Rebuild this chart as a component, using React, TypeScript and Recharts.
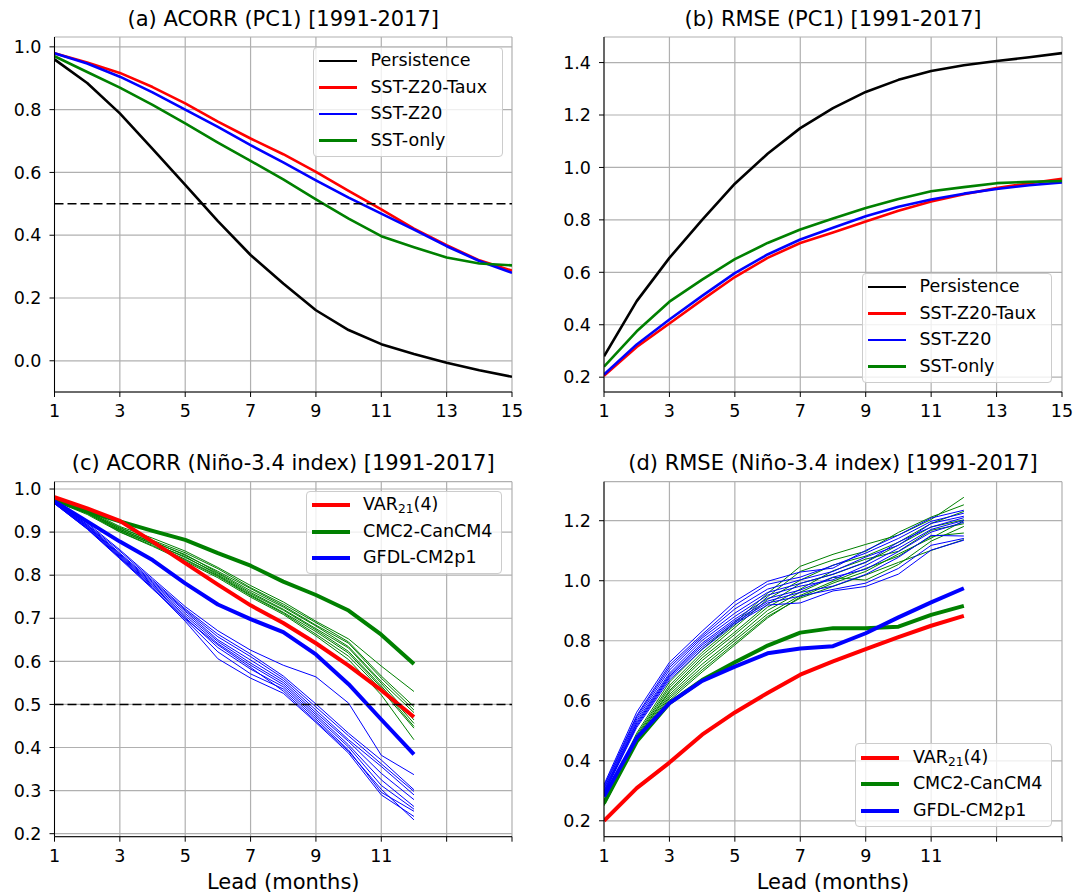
import React from "react";
import { LineChart, Line, XAxis, YAxis, CartesianGrid, ReferenceLine } from "recharts";

const FONT = "'DejaVu Sans', Verdana, sans-serif";

// lead months
const leadsPC1 = [1, 2, 3, 4, 5, 6, 7, 8, 9, 10, 11, 12, 13, 14, 15];
const leadsNino = [1, 2, 3, 4, 5, 6, 7, 8, 9, 10, 11, 12];
const xTicks = [1, 3, 5, 7, 9, 11, 13, 15];

// (a) ACORR PC1
const persistenceA = [0.96, 0.885, 0.788, 0.675, 0.56, 0.445, 0.337, 0.246, 0.161, 0.098, 0.053, 0.022, -0.006, -0.03, -0.051];
const tauxA = [0.98, 0.95, 0.917, 0.872, 0.82, 0.762, 0.708, 0.658, 0.602, 0.541, 0.482, 0.421, 0.368, 0.32, 0.287];
const z20A = [0.98, 0.947, 0.905, 0.855, 0.8, 0.745, 0.687, 0.632, 0.575, 0.52, 0.469, 0.418, 0.365, 0.318, 0.28];
const sstOnlyA = [0.97, 0.92, 0.87, 0.815, 0.756, 0.695, 0.637, 0.578, 0.514, 0.453, 0.397, 0.362, 0.329, 0.31, 0.304];

// (b) RMSE PC1
const persistenceB = [0.28, 0.49, 0.655, 0.8, 0.938, 1.052, 1.15, 1.226, 1.288, 1.334, 1.368, 1.39, 1.406, 1.42, 1.436];
const tauxB = [0.205, 0.315, 0.405, 0.495, 0.582, 0.655, 0.712, 0.752, 0.794, 0.835, 0.87, 0.898, 0.921, 0.94, 0.957];
const z20B = [0.21, 0.325, 0.42, 0.51, 0.597, 0.668, 0.725, 0.77, 0.814, 0.85, 0.878, 0.9, 0.918, 0.932, 0.943];
const sstOnlyB = [0.24, 0.375, 0.488, 0.572, 0.65, 0.712, 0.763, 0.805, 0.845, 0.88, 0.909, 0.925, 0.94, 0.945, 0.948];

// (c) ACORR Nino-3.4
const varC = [0.981, 0.955, 0.926, 0.878, 0.828, 0.778, 0.73, 0.689, 0.642, 0.59, 0.533, 0.471];
const cmcC = [0.975, 0.948, 0.925, 0.903, 0.882, 0.851, 0.822, 0.785, 0.754, 0.718, 0.662, 0.594];
const gfdlC = [0.971, 0.925, 0.878, 0.835, 0.781, 0.732, 0.698, 0.668, 0.616, 0.547, 0.465, 0.384];
const cmcMembersC = [
  [0.976, 0.951, 0.913, 0.886, 0.856, 0.818, 0.776, 0.738, 0.693, 0.652, 0.589, 0.53],
  [0.975, 0.949, 0.909, 0.881, 0.852, 0.815, 0.771, 0.733, 0.69, 0.645, 0.566, 0.495],
  [0.975, 0.947, 0.911, 0.879, 0.846, 0.809, 0.769, 0.729, 0.684, 0.642, 0.561, 0.487],
  [0.974, 0.948, 0.906, 0.877, 0.848, 0.806, 0.764, 0.726, 0.682, 0.634, 0.553, 0.481],
  [0.974, 0.945, 0.907, 0.875, 0.841, 0.804, 0.76, 0.721, 0.676, 0.631, 0.549, 0.464],
  [0.973, 0.946, 0.904, 0.873, 0.843, 0.801, 0.757, 0.719, 0.673, 0.623, 0.543, 0.456],
  [0.973, 0.943, 0.903, 0.872, 0.837, 0.799, 0.754, 0.714, 0.669, 0.619, 0.539, 0.449],
  [0.972, 0.944, 0.901, 0.869, 0.835, 0.797, 0.752, 0.712, 0.663, 0.612, 0.534, 0.445],
  [0.972, 0.941, 0.9, 0.867, 0.832, 0.794, 0.749, 0.709, 0.659, 0.604, 0.522, 0.418],
];
const gfdlMembersC = [
  [0.97, 0.921, 0.859, 0.793, 0.727, 0.671, 0.626, 0.591, 0.564, 0.503, 0.382, 0.337],
  [0.97, 0.918, 0.856, 0.789, 0.722, 0.663, 0.617, 0.566, 0.501, 0.433, 0.371, 0.302],
  [0.969, 0.917, 0.851, 0.786, 0.719, 0.657, 0.611, 0.561, 0.494, 0.427, 0.362, 0.298],
  [0.969, 0.915, 0.849, 0.783, 0.716, 0.65, 0.603, 0.556, 0.487, 0.418, 0.356, 0.29],
  [0.968, 0.914, 0.847, 0.78, 0.711, 0.646, 0.596, 0.551, 0.481, 0.414, 0.34, 0.279],
  [0.968, 0.912, 0.845, 0.777, 0.706, 0.641, 0.591, 0.546, 0.476, 0.406, 0.325, 0.263],
  [0.967, 0.911, 0.843, 0.775, 0.702, 0.632, 0.582, 0.541, 0.471, 0.401, 0.312, 0.257],
  [0.967, 0.909, 0.841, 0.772, 0.697, 0.622, 0.571, 0.536, 0.466, 0.394, 0.296, 0.252],
  [0.966, 0.908, 0.84, 0.77, 0.693, 0.606, 0.561, 0.526, 0.458, 0.387, 0.29, 0.24],
  [0.966, 0.907, 0.838, 0.768, 0.699, 0.638, 0.586, 0.531, 0.461, 0.391, 0.303, 0.232],
];

// (d) RMSE Nino-3.4
const varD = [0.2, 0.309, 0.394, 0.487, 0.561, 0.626, 0.687, 0.731, 0.772, 0.812, 0.85, 0.883];
const cmcD = [0.259, 0.464, 0.592, 0.669, 0.728, 0.784, 0.827, 0.842, 0.842, 0.847, 0.886, 0.916];
const gfdlD = [0.281, 0.476, 0.592, 0.666, 0.714, 0.758, 0.774, 0.782, 0.825, 0.878, 0.928, 0.975];
const cmcMembersD = [
  [0.265, 0.492, 0.662, 0.772, 0.861, 0.958, 1.048, 1.088, 1.121, 1.152, 1.204, 1.278],
  [0.262, 0.486, 0.651, 0.761, 0.852, 0.947, 1.031, 1.069, 1.098, 1.161, 1.212, 1.253],
  [0.261, 0.481, 0.643, 0.752, 0.844, 0.938, 1.002, 1.052, 1.082, 1.128, 1.191, 1.231],
  [0.259, 0.477, 0.634, 0.743, 0.829, 0.921, 0.991, 1.021, 1.061, 1.119, 1.179, 1.203],
  [0.257, 0.474, 0.629, 0.734, 0.821, 0.912, 0.972, 1.033, 1.072, 1.098, 1.168, 1.19],
  [0.255, 0.471, 0.621, 0.722, 0.809, 0.901, 0.962, 1.011, 1.002, 1.054, 1.132, 1.181],
  [0.254, 0.468, 0.614, 0.712, 0.801, 0.889, 0.951, 0.998, 1.041, 1.082, 1.148, 1.159],
  [0.252, 0.465, 0.608, 0.703, 0.792, 0.881, 0.942, 0.981, 1.019, 1.061, 1.101, 1.137],
  [0.25, 0.462, 0.601, 0.696, 0.786, 0.876, 0.946, 0.992, 1.031, 1.089, 1.142, 1.2],
];
const gfdlMembersD = [
  [0.321, 0.562, 0.728, 0.832, 0.931, 0.998, 1.029, 1.042, 1.101, 1.152, 1.209, 1.235],
  [0.316, 0.551, 0.719, 0.821, 0.918, 0.988, 1.012, 1.051, 1.092, 1.141, 1.198, 1.225],
  [0.311, 0.546, 0.711, 0.815, 0.906, 0.972, 1.003, 1.031, 1.079, 1.118, 1.191, 1.215],
  [0.306, 0.539, 0.702, 0.809, 0.892, 0.961, 0.991, 1.022, 1.062, 1.129, 1.179, 1.21],
  [0.301, 0.532, 0.692, 0.801, 0.881, 0.952, 0.982, 1.003, 1.051, 1.108, 1.171, 1.201],
  [0.298, 0.526, 0.686, 0.792, 0.872, 0.941, 0.969, 1.012, 1.038, 1.097, 1.162, 1.195],
  [0.295, 0.521, 0.681, 0.786, 0.866, 0.932, 0.961, 0.982, 1.021, 1.078, 1.151, 1.149],
  [0.292, 0.516, 0.676, 0.779, 0.861, 0.926, 0.949, 0.971, 0.992, 1.041, 1.118, 1.141],
  [0.29, 0.511, 0.669, 0.771, 0.856, 0.919, 0.926, 0.966, 0.981, 1.022, 1.102, 1.135],
];

const yTicksA = [0, 0.2, 0.4, 0.6, 0.8, 1.0];
const yTicksB = [0.2, 0.4, 0.6, 0.8, 1.0, 1.2, 1.4];
const yTicksC = [0.2, 0.3, 0.4, 0.5, 0.6, 0.7, 0.8, 0.9, 1.0];
const yTicksD = [0.2, 0.4, 0.6, 0.8, 1.0, 1.2];

const BLACK = "#000000";
const RED = "#ff0000";
const BLUE = "#0000ff";
const GREEN = "#008000";

const dataA = leadsPC1.map((lead, i) => ({ lead, p: persistenceA[i], t: tauxA[i], z: z20A[i], s: sstOnlyA[i] }));
const dataB = leadsPC1.map((lead, i) => ({ lead, p: persistenceB[i], t: tauxB[i], z: z20B[i], s: sstOnlyB[i] }));

function ninoRows(v: number[], c: number[], g: number[], cm: number[][], gm: number[][]) {
  return leadsNino.map((lead, i) => {
    const row: Record<string, number> = { lead, v: v[i], c: c[i], g: g[i] };
    cm.forEach((m, j) => (row["c" + j] = m[i]));
    gm.forEach((m, j) => (row["g" + j] = m[i]));
    return row;
  });
}
const dataC = ninoRows(varC, cmcC, gfdlC, cmcMembersC, gfdlMembersC);
const dataD = ninoRows(varD, cmcD, gfdlD, cmcMembersD, gfdlMembersD);

const PC_W = 2.6;
const THICK = 4;
const THIN = 1;

type S = { key: string; color: string; w: number };
const pcSeries: S[] = [
  { key: "p", color: BLACK, w: PC_W },
  { key: "t", color: RED, w: PC_W },
  { key: "z", color: BLUE, w: PC_W },
  { key: "s", color: GREEN, w: PC_W },
];
const ninoSeries: S[] = [
  ...cmcMembersC.map((_, j) => ({ key: "c" + j, color: GREEN, w: THIN })),
  ...gfdlMembersC.map((_, j) => ({ key: "g" + j, color: BLUE, w: THIN })),
  { key: "c", color: GREEN, w: THICK },
  { key: "g", color: BLUE, w: THICK },
  { key: "v", color: RED, w: THICK },
];

const tickStyle = { fill: "#000", fontSize: 17.5, fontFamily: FONT };

function Panel(props: {
  left: number; top: number; width: number; height: number;
  plot: [number, number, number, number]; // l, r, t, b
  data: Record<string, number>[]; series: S[];
  yDomain: [number, number]; yTicks: number[];
  shortX?: boolean; dashed?: boolean;
}) {
  const { left, top, width, height, plot, data, series, yDomain, yTicks, shortX, dashed } = props;
  const [pl, pr, pt, pb] = plot;
  return (
    <div style={{ position: "absolute", left, top }}>
      <LineChart width={width} height={height} data={data}
        margin={{ top: pt - top, right: left + width - pr, bottom: 0, left: 0 }}>
        <CartesianGrid stroke="#b0b0b0" strokeWidth={1.2} />
        <XAxis dataKey="lead" type="number" domain={[1, 15]} ticks={xTicks} allowDataOverflow interval={0}
          height={top + height - pb} tickSize={5} tickMargin={8} stroke="#000" tick={tickStyle}
          tickFormatter={(v: number) => (shortX && v > 11 ? "" : String(v))} />
        <XAxis xAxisId="top" orientation="top" dataKey="lead" type="number" domain={[1, 15]} allowDataOverflow
          height={0} tick={false} tickLine={false} stroke="#000" />
        <YAxis type="number" domain={yDomain} ticks={yTicks} allowDataOverflow interval={0}
          width={pl - left} tickSize={5} tickMargin={8} stroke="#000" tick={tickStyle}
          tickFormatter={(v: number) => v.toFixed(1)} />
        <YAxis yAxisId="right" orientation="right" type="number" domain={yDomain} allowDataOverflow
          width={0} tick={false} tickLine={false} stroke="#000" />
        {series.map((s) => (
          <Line key={s.key} type="linear" dataKey={s.key} stroke={s.color} strokeWidth={s.w}
            dot={false} activeDot={false} isAnimationActive={false} strokeLinejoin="round" />
        ))}
        {dashed && <ReferenceLine y={0.5} stroke="#000" strokeWidth={1.5} strokeDasharray="9 4" />}
      </LineChart>
    </div>
  );
}

type Item = { label: React.ReactNode; color: string; w: number };
function LegendBox({ x, y, w, items }: { x: number; y: number; w: number; items: Item[] }) {
  const h = 4 + items.length * 26.6;
  return (
    <div style={{
      position: "absolute", left: x, top: y, width: w, height: h,
      boxSizing: "border-box", border: "1px solid #cccccc", borderRadius: 4,
      background: "rgba(255,255,255,0.8)", fontFamily: FONT, fontSize: 17.5,
    }}>
      {items.map((it, i) => {
        const cy = 14.3 + i * 26.6;
        return (
          <React.Fragment key={i}>
            <div style={{ position: "absolute", left: 5, top: cy - it.w / 2 - 1, width: 38, height: it.w, background: it.color }} />
            <div style={{ position: "absolute", left: 56.5, top: cy - 8.75 - 1, lineHeight: "17.5px", whiteSpace: "nowrap", color: "#000" }}>
              {it.label}
            </div>
          </React.Fragment>
        );
      })}
    </div>
  );
}

const pcItems: Item[] = [
  { label: "Persistence", color: BLACK, w: PC_W },
  { label: "SST-Z20-Taux", color: RED, w: PC_W },
  { label: "SST-Z20", color: BLUE, w: PC_W },
  { label: "SST-only", color: GREEN, w: PC_W },
];
const ninoItems: Item[] = [
  { label: <span>VAR<sub style={{ fontSize: "0.7em", verticalAlign: "-0.25em", lineHeight: 0 }}>21</sub>(4)</span>, color: RED, w: THICK },
  { label: "CMC2-CanCM4", color: GREEN, w: THICK },
  { label: "GFDL-CM2p1", color: BLUE, w: THICK },
];

function Title({ cx, baseline, text, size = 21 }: { cx: number; baseline: number; text: string; size?: number }) {
  return (
    <div style={{
      position: "absolute", left: cx - 300, width: 600, top: baseline - 0.846 * size,
      textAlign: "center", fontFamily: FONT, fontSize: size, lineHeight: `${size}px`, color: "#000", whiteSpace: "nowrap",
    }}>{text}</div>
  );
}

export default function App() {
  const L1: [number, number] = [54.5, 512];
  const L2: [number, number] = [604, 1062];
  return (
    <div style={{ position: "absolute", left: 0, top: 0, width: 1086, height: 896, background: "#fff", overflow: "hidden" }}>
      <Panel left={0} top={0} width={543} height={440} plot={[L1[0], L1[1], 37, 392]}
        data={dataA} series={pcSeries} yDomain={[-0.0994, 1.0314]} yTicks={yTicksA} dashed />
      <Panel left={543} top={0} width={543} height={440} plot={[L2[0], L2[1], 37, 392]}
        data={dataB} series={pcSeries} yDomain={[0.1435, 1.4975]} yTicks={yTicksB} />
      <Panel left={0} top={440} width={543} height={456} plot={[L1[0], L1[1], 481.7, 836.7]}
        data={dataC} series={ninoSeries} yDomain={[0.193, 1.017]} yTicks={yTicksC} shortX dashed />
      <Panel left={543} top={440} width={543} height={456} plot={[L2[0], L2[1], 481.7, 836.7]}
        data={dataD} series={ninoSeries} yDomain={[0.147, 1.33]} yTicks={yTicksD} shortX />

      <Title cx={283.25} baseline={26.7} text="(a) ACORR (PC1) [1991-2017]" />
      <Title cx={833} baseline={26.7} text="(b) RMSE (PC1) [1991-2017]" />
      <Title cx={283.25} baseline={471} text="(c) ACORR (Niño-3.4 index) [1991-2017]" />
      <Title cx={833} baseline={471} text="(d) RMSE (Niño-3.4 index) [1991-2017]" />
      <Title cx={283.25} baseline={890} text="Lead (months)" />
      <Title cx={833} baseline={890} text="Lead (months)" />

      <LegendBox x={313} y={46.7} w={190} items={pcItems} />
      <LegendBox x={862} y={272.7} w={190} items={pcItems} />
      <LegendBox x={305.5} y={490.7} w={196.5} items={ninoItems} />
      <LegendBox x={855.4} y={743.3} w={197} items={ninoItems} />
    </div>
  );
}
